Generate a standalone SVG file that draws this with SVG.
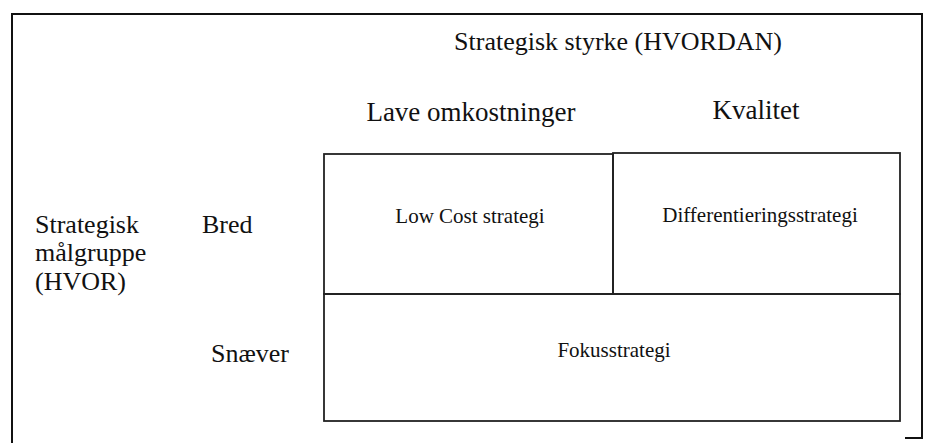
<svg xmlns="http://www.w3.org/2000/svg" width="928" height="443" viewBox="0 0 928 443">
<style>
.t{font-family:"Liberation Serif","Times New Roman",serif;fill:#111}
.big{font-size:26px}
.col{font-size:27px}
.small{font-size:21px}
.ln{fill:none;stroke:#111;stroke-width:2}
.cell{fill:none;stroke:#222;stroke-width:1.8}
</style>
<rect width="928" height="443" fill="#fff"/>
<g id="frame">
<path class="ln" d="M12,443 V14 H922 V438 H905"/>
</g>
<g id="header">
<text class="t big" x="618" y="50" text-anchor="middle">Strategisk styrke (HVORDAN)</text>
<text class="t col" x="471" y="121" text-anchor="middle">Lave omkostninger</text>
<text class="t col" x="756" y="119" text-anchor="middle">Kvalitet</text>
</g>
<g id="rowlabels">
<text class="t big" x="35" y="233">Strategisk</text>
<text class="t big" x="35" y="261">målgruppe</text>
<text class="t big" x="35" y="290">(HVOR)</text>
<text class="t big" x="202" y="233">Bred</text>
<text class="t big" x="211" y="362">Snæver</text>
</g>
<g id="lowcost">
<rect class="cell" x="324" y="154" width="289" height="140"/>
<text class="t small" x="470" y="223" text-anchor="middle">Low Cost strategi</text>
</g>
<g id="diff">
<rect class="cell" x="613" y="153" width="287" height="141"/>
<text class="t small" x="760" y="222" text-anchor="middle">Differentieringsstrategi</text>
</g>
<g id="fokus">
<rect class="cell" x="324" y="294" width="576" height="127"/>
<text class="t small" x="614" y="357" text-anchor="middle">Fokusstrategi</text>
</g>
<g id="connectors"></g>
</svg>
